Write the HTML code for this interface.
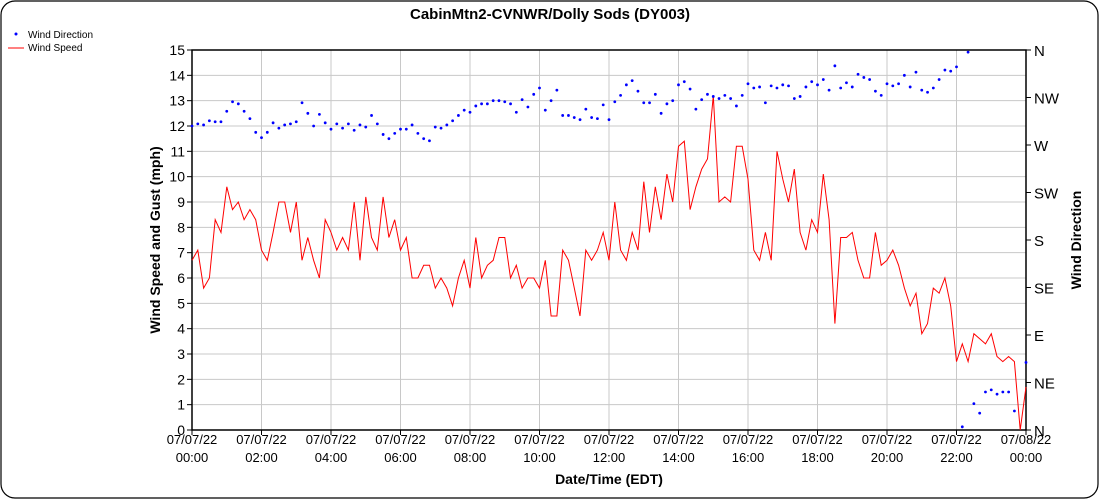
<!DOCTYPE html>
<html><head><meta charset="utf-8"><style>
html,body{margin:0;padding:0;background:#fff;}
svg{display:block;font-family:"Liberation Sans",sans-serif;}
</style></head><body>
<svg id="chart" width="1100" height="500">
<rect x="1" y="1" width="1097" height="497" rx="14" fill="#fff" stroke="#000" stroke-width="1.2"/>
<text x="550" y="19" text-anchor="middle" font-size="15" font-weight="bold">CabinMtn2-CVNWR/Dolly Sods (DY003)</text>
<g>
<circle cx="16" cy="34" r="1.5" fill="#00f"/>
<text x="28" y="38" font-size="10">Wind Direction</text>
<line x1="8" y1="48" x2="24" y2="48" stroke="#f00"/>
<text x="28" y="51" font-size="10">Wind Speed</text>
</g>
<g id="grid"></g>
<g id="axes"></g>
<g id="series"></g>
<text transform="translate(160,240) rotate(-90)" text-anchor="middle" font-size="14" font-weight="bold">Wind Speed and Gust (mph)</text>
<text transform="translate(1081,240) rotate(-90)" text-anchor="middle" font-size="14" font-weight="bold">Wind Direction</text>
<text x="609" y="484" text-anchor="middle" font-size="14" font-weight="bold">Date/Time (EDT)</text>
</svg>
<script>
const speed=[6.7,7.1,5.6,6.0,8.3,7.8,9.6,8.7,9.0,8.3,8.7,8.3,7.1,6.7,7.8,9.0,9.0,7.8,9.0,6.7,7.6,6.7,6.0,8.3,7.8,7.1,7.6,7.1,9.0,6.7,9.2,7.6,7.1,9.2,7.6,8.3,7.1,7.6,6.0,6.0,6.5,6.5,5.6,6.0,5.6,4.9,6.0,6.7,
5.6,7.6,6.0,6.5,6.7,7.6,7.6,6.0,6.5,5.6,6.0,6.0,5.6,6.7,4.5,4.5,7.1,6.7,5.6,4.5,7.1,6.7,7.1,7.8,6.7,9.0,7.1,6.7,7.8,7.1,9.8,7.8,9.6,8.3,10.1,9.0,11.2,11.4,8.7,9.6,10.3,10.7,13.2,9.0,9.2,9.0,11.2,11.2,9.9,7.1,6.7,
7.8,6.7,11.0,9.9,9.0,10.3,7.8,7.1,8.3,7.8,10.1,8.3,4.2,7.6,7.6,7.8,6.7,6.0,6.0,7.8,6.5,6.7,7.1,6.5,5.6,4.9,5.4,3.8,4.2,5.6,5.4,6.0,4.9,2.7,3.4,2.7,3.8,3.6,3.4,3.8,2.9,2.7,2.9,2.7,0,1.7];
const direction=[288,290,289,293,292,292,302,311,309,302,295,282,277,282,291,286,289,290,292,310,300,288,299,291,285,290,286,290,284,289,287,298,290,280,276,281,285,285,289,281,276,274,287,286,289,293,298,303,
301,307,309,309,312,312,311,309,301,313,306,318,324,303,312,322,298,298,296,294,304,296,295,308,294,311,317,327,331,321,310,310,318,300,309,312,327,330,323,304,313,318,316,314,317,314,307,317,328,324,325,
310,326,324,327,326,314,316,325,330,327,332,322,345,324,329,325,337,334,332,321,317,328,326,328,336,325,339,322,320,324,332,341,340,344,3,358,25,16,36,38,34,36,36,18,null,64];
const yTicks=[0,1,2,3,4,5,6,7,8,9,10,11,12,13,14,15];
const compassLabels=["N","NE","E","SE","S","SW","W","NW","N"];
const xTickDates=["07/07/22","07/07/22","07/07/22","07/07/22","07/07/22","07/07/22","07/07/22","07/07/22","07/07/22","07/07/22","07/07/22","07/07/22","07/08/22"];
const xTickTimes=["00:00","02:00","04:00","06:00","08:00","10:00","12:00","14:00","16:00","18:00","20:00","22:00","00:00"];

const NS="http://www.w3.org/2000/svg";
const L=192,R=1026,T=50,B=430;
const xIdx=i=>L+(R-L)*i/144;
const xHour=h=>L+(R-L)*h/24;
const yS=v=>B-(B-T)*v/15;
const yD=d=>B-(B-T)*d/360;
function mk(tag,attrs,parent){const e=document.createElementNS(NS,tag);for(const k in attrs)e.setAttribute(k,attrs[k]);parent.appendChild(e);return e;}
const grid=document.getElementById('grid'),axes=document.getElementById('axes'),series=document.getElementById('series');

yTicks.forEach(v=>{
  const y=yS(v);
  const g=mk('line',{x1:L,x2:R,y1:y,y2:y,stroke:'#c8c8c8','stroke-width':1},grid);
  
  
  const t=mk('line',{x1:L-5,x2:L,y1:y,y2:y,stroke:'#000'},axes);
  
  
  const lb=mk('text',{x:L-7,y:y+5,'text-anchor':'end','font-size':14},axes);
  lb.textContent=v;
  
  
});
compassLabels.forEach((c,i)=>{
  const y=yD(i*45);
  const t=mk('line',{x1:R,x2:R+5,y1:y,y2:y,stroke:'#000'},axes);
  
  
  const lb=mk('text',{x:R+8,y:y+6,'font-size':15},axes);
  lb.textContent=c;
  
  
});
xTickTimes.forEach((tm,i)=>{
  const x=xHour(i*2);
  const g=mk('line',{x1:x,x2:x,y1:T,y2:B,stroke:'#c8c8c8'},grid);
  
  
  const t=mk('line',{x1:x,x2:x,y1:B,y2:B+5,stroke:'#000'},axes);
  
  
  const a=mk('text',{x:x,y:B+14,'text-anchor':'middle','font-size':13},axes);
  a.textContent=xTickDates[i];
  
  
  const b=mk('text',{x:x,y:B+32,'text-anchor':'middle','font-size':13},axes);
  b.textContent=tm;
  
  
});
const frame=mk('path',{d:`M${L} ${T}H${R}V${B}H${L}Z`,fill:'none',stroke:'#000','stroke-width':1.5},axes);



const pts=speed.map((v,i)=>xIdx(i).toFixed(1)+','+yS(v).toFixed(1)).join(' ');
const pl=mk('polyline',{points:pts,fill:'none',stroke:'#f00','stroke-width':1},series);


direction.forEach((d,i)=>{
  if(d===null)return;
  const c=mk('circle',{cx:xIdx(i),cy:yD(d),r:1.4,fill:'#00f'},series);
  
  
});
</script>
</body></html>
